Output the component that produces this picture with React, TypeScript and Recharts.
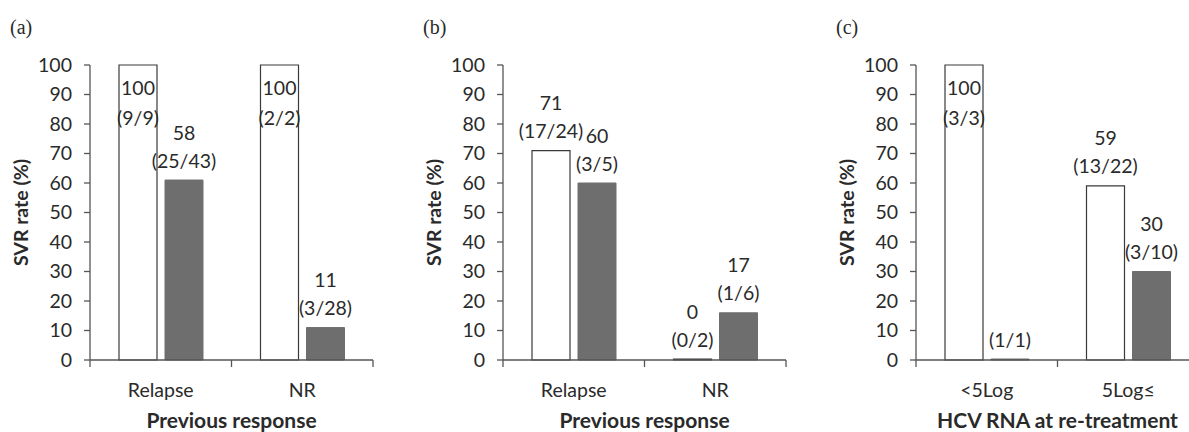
import React from 'react';
import { BarChart, Bar, XAxis, YAxis, LabelList } from 'recharts';

const FONT = 'Lato, "Open Sans", sans-serif';
const SERIF = '"Liberation Serif", "DejaVu Serif", serif';
const TEXT = '#2a2a2a';
const AXIS = '#555555';
const GRAY = '#6e6e6e';
const EDGE = '#3a3a3a';

const panelTitles = ['(a)', '(b)', '(c)'];
const xTitles = ['Previous response', 'Previous response', 'HCV RNA at re-treatment'];
const yTitle = 'SVR rate (%)';

const categoriesA = ['Relapse', 'NR'];
const categoriesB = ['Relapse', 'NR'];
const categoriesC = ['<5Log', '5Log≤'];

const whiteA = [100, 100];
const grayA = [61, 11];
const whiteB = [71, 0];
const grayB = [60, 16];
const whiteC = [100, 59];
const grayC = [0, 30];

const whiteValueA = ['100', '100'];
const whiteFracA = ['(9/9)', '(2/2)'];
const grayValueA = ['58', '11'];
const grayFracA = ['(25/43)', '(3/28)'];

const whiteValueB = ['71', '0'];
const whiteFracB = ['(17/24)', '(0/2)'];
const grayValueB = ['60', '17'];
const grayFracB = ['(3/5)', '(1/6)'];

const whiteValueC = ['100', '59'];
const whiteFracC = ['(3/3)', '(13/22)'];
const grayValueC = ['', '30'];
const grayFracC = ['(1/1)', '(3/10)'];

const yTicks = [0, 10, 20, 30, 40, 50, 60, 70, 80, 90, 100];

type PanelSpec = {
  title: string;
  xTitle: string;
  categories: string[];
  white: number[];
  gray: number[];
  whiteValue: string[];
  whiteFrac: string[];
  grayValue: string[];
  grayFrac: string[];
};

const panels: PanelSpec[] = [
  { title: panelTitles[0], xTitle: xTitles[0], categories: categoriesA, white: whiteA, gray: grayA, whiteValue: whiteValueA, whiteFrac: whiteFracA, grayValue: grayValueA, grayFrac: grayFracA },
  { title: panelTitles[1], xTitle: xTitles[1], categories: categoriesB, white: whiteB, gray: grayB, whiteValue: whiteValueB, whiteFrac: whiteFracB, grayValue: grayValueB, grayFrac: grayFracB },
  { title: panelTitles[2], xTitle: xTitles[2], categories: categoriesC, white: whiteC, gray: grayC, whiteValue: whiteValueC, whiteFrac: whiteFracC, grayValue: grayValueC, grayFrac: grayFracC },
];

const TICK_SIZE = 0;
const TICK_MARGIN = 23;
const BOUNDARY_TICK = 7;

const CategoryTick = (props: any) => {
  const { x, y, payload, index, visibleTicksCount, width } = props;
  const count = Number(visibleTicksCount) || 1;
  const w = Number(width);
  const half = w > 0 ? w / count / 2 : NaN;
  const axisY = Number(y) - TICK_SIZE - TICK_MARGIN;
  const lines: number[] = [];
  if (!isNaN(half)) {
    lines.push(Number(x) - half);
    if (index === count - 1) lines.push(Number(x) + half);
  }
  return (
    <g>
      {lines.map((lx, k) => (
        <line key={k} x1={lx} x2={lx} y1={axisY} y2={axisY + BOUNDARY_TICK} stroke={AXIS} strokeWidth={1.3} />
      ))}
      <text
        x={x}
        y={y}
        dy="0.71em"
        textAnchor="middle"
        style={{ fontFamily: FONT, fontSize: 19.5, fill: TEXT }}
      >
        {payload?.value}
      </text>
    </g>
  );
};

const makeLabel = (vals: string[], fracs: string[], nums: number[]) => (props: any) => {
  const { x, y, width, value } = props;
  const i = Number(value);
  if (!(i >= 0 && i < nums.length)) return null;
  const cx = Number(x) + Number(width) / 2;
  const top = Number(y);
  const inside = nums[i] >= 95;
  const y1 = inside ? top + 22 : top - 48;
  const y2 = inside ? top + 52 : top - 20;
  const style = { fontFamily: FONT, fontSize: 19.5, fill: TEXT } as const;
  return (
    <g>
      {vals[i] ? (
        <text x={cx} y={y1} textAnchor="middle" dominantBaseline="central" style={style}>
          {vals[i]}
        </text>
      ) : null}
      {fracs[i] ? (
        <text x={cx} y={y2} textAnchor="middle" dominantBaseline="central" style={style}>
          {fracs[i]}
        </text>
      ) : null}
    </g>
  );
};

function Panel({ spec }: { spec: PanelSpec }) {
  const data = spec.categories.map((name, i) => ({
    name,
    idx: i,
    white: spec.white[i],
    gray: spec.gray[i],
  }));
  return (
    <div style={{ position: 'relative', width: 413, height: 432 }}>
      <div
        style={{
          position: 'absolute',
          left: 10,
          top: 15,
          fontFamily: SERIF,
          fontSize: 20,
          lineHeight: '24px',
          color: TEXT,
        }}
      >
        {spec.title}
      </div>
      <BarChart
        width={413}
        height={432}
        data={data}
        margin={{ top: 65, right: 40, left: 0, bottom: 0 }}
        barSize={38}
        barGap={8}
      >
        <XAxis
          dataKey="name"
          height={72}
          tickLine={false}
          tickSize={TICK_SIZE}
          tickMargin={TICK_MARGIN}
          interval={0}
          axisLine={{ stroke: AXIS, strokeWidth: 1.5 }}
          tick={<CategoryTick />}
          label={{
            value: spec.xTitle,
            position: 'insideBottom',
            offset: 4,
            style: { fontFamily: FONT, fontSize: 21, fontWeight: 700, fill: TEXT },
          }}
        />
        <YAxis
          width={90}
          domain={[0, 100]}
          ticks={yTicks}
          interval={0}
          tickSize={6}
          tickMargin={12}
          axisLine={{ stroke: AXIS, strokeWidth: 1.3 }}
          tickLine={{ stroke: AXIS, strokeWidth: 1.3 }}
          tick={{ fontFamily: FONT, fontSize: 19.5, fill: TEXT }}
          label={{
            value: yTitle,
            angle: -90,
            position: 'insideLeft',
            offset: 21,
            textAnchor: 'middle',
            style: { fontFamily: FONT, fontSize: 19.5, fontWeight: 700, fill: TEXT, textAnchor: 'middle' },
          }}
        />
        <Bar dataKey="white" fill="#ffffff" stroke={EDGE} strokeWidth={1.2} minPointSize={1} isAnimationActive={false}>
          <LabelList dataKey="idx" content={makeLabel(spec.whiteValue, spec.whiteFrac, spec.white)} />
        </Bar>
        <Bar dataKey="gray" fill={GRAY} stroke={GRAY} strokeWidth={1} minPointSize={1} isAnimationActive={false}>
          <LabelList dataKey="idx" content={makeLabel(spec.grayValue, spec.grayFrac, spec.gray)} />
        </Bar>
      </BarChart>
    </div>
  );
}

export default function App() {
  return (
    <div
      style={{
        position: 'absolute',
        left: 0,
        top: 0,
        width: 1189,
        height: 432,
        overflow: 'hidden',
        background: '#ffffff',
      }}
    >
      {panels.map((p, i) => (
        <div key={i} style={{ position: 'absolute', left: i * 413, top: 0 }}>
          <Panel spec={p} />
        </div>
      ))}
    </div>
  );
}
